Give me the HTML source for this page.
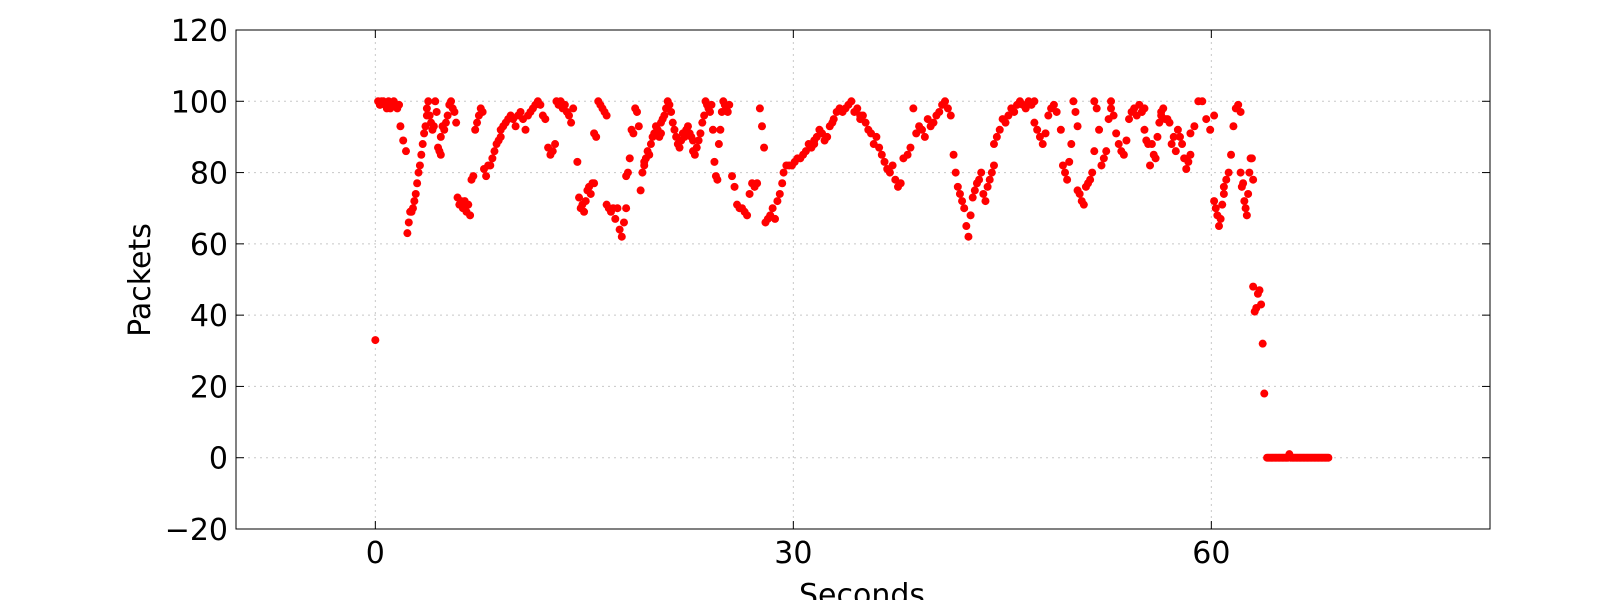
<!DOCTYPE html>
<html><head><meta charset="utf-8"><style>
html,body{margin:0;padding:0;background:#fff;}
svg text{font-family:"DejaVu Sans","Liberation Sans",sans-serif;fill:#000;}
</style></head><body>
<svg id="chart" width="1600" height="600" xmlns="http://www.w3.org/2000/svg">
<rect width="1600" height="600" fill="#fff"/>
<g id="grid"></g>
<g id="points"></g>
<rect x="236" y="30" width="1254" height="499" fill="none" stroke="#000" stroke-width="1"/>
<g id="ticks"></g>
<text transform="translate(150,280) rotate(-90)" text-anchor="middle" font-size="30">Packets</text>
<text x="862" y="605" text-anchor="middle" font-size="30">Seconds</text>
</svg>
<script>
const xTicks=[0,30,60];
const yTicks=[-20,0,20,40,60,80,100,120];
const yTickLabels=["\u221220","0","20","40","60","80","100","120"];
const segStart=[0,0.2,1.8,2.3,3.7,4.7,5.9,6.9,7.8,9,12.4,13,14.5,15.7,16.6,18,19.3,20.5,22.8,23.7,25.6,27.6,28,29.3,31.5,32.9,34.8,38.2,41.5,44.4,47.3,49.2,50.4,51.6,52.8,55.2,56.4,58.5,60.2,60.9,62.1,63,64];
const segEnd=[0,1.7,2.2,3.7,4.7,5.8,6.8,7.7,9,12.2,12.9,14.2,15.7,16.6,18,19.3,20.5,22.8,23.6,25.4,27.4,27.9,29.2,31.5,32.8,34.8,37.9,41.3,44.4,47.3,48.9,50.4,51.6,52.8,55.2,56.4,58.5,60.2,60.9,62.1,63,63.8,68.4];
const segValues=[
[33],
[100,99,100,100,99,98,100,98,99,100,99,98,99],
[93,89,86],
[63,66,69,69,70,72,74,77,80,82,85,88,91,93,96],
[98,100,96,94,92,93,100,97,87,86,85],
[90,93,92,94,96,99,100,98,97,94],
[73,71,72,70,72,69,71,68],
[78,79,92,94,96,98,97],
[81,79,82,82,84,86,88,89,90],
[92,93,94,95,96,95,93,96,97,95,92,96,97,98,99,100,99,96,95],
[87,85,86,88],
[100,99,100,98,99,97,96,94,98],
[83,73,70,71,69,72,75,76,74,77,77],
[91,90,100,99,98,97,96],
[71,70,69,70,67,70,64,62,66,70],
[79,80,84,92,91,98,97,93,75,80,82],
[83,84,86,85,88,90,91,93,92,90,91],
[94,95,96,98,100,99,97,94,92,90,88,87,89,91,90,92,93,91,90,89],
[86,85,87,89,91,94,96],
[100,99,98,97,99,92,83,79,78,88,92,97,100,99,98,97,99],
[79,76,71,70,70,69,68,74,77,76,77],
[98,93,87],
[66,67,68,70,67,72,74,77],
[80,82,82,82,83,84,84,85,86,88,87,88],
[89,90,92,91,89,90,93,94],
[95,97,98,97,98,99,100,97,98,96],
[95,96,94,92,91,88,90,87,85,83,81,80,82,78,76,77,84],
[85,87,98,91,93,92,90,95,93,94,96,97,99,100,98,96],
[85,80,76,74,72,70,65,62,68,73,75,77,78,80,74,72,76,78,80,82],
[88,90,92,95,94,96,98,97,99,100,99,98,100,99,100],
[94,92,90,88,91,96,98,99,97],
[92,82,80,78,83,88,100,97,93],
[75,74,72,71,76,77,78,80,86],
[100,98,92,82,84,86,95,100],
[98,96,91,88,86,85,89,95,97,98,96,99,97,98],
[92,89,88,82,88,85,84,90,94,96],
[97,98,95,95,94,88,90,86,92,90,88,84,81,83,85],
[91,93,100,100,95,92,96],
[72,70,68,65,67,71,74],
[76,78,80,85,93,98,99,97],
[80,76,77,72,70,68,74,80,84,84,78],
[48,41,42,46,47,43,32,18],
[0,0,0,0,0,0,0,0,0,0,0,0,0,0,0,0,1,0,0,0,0,0,0,0,0,0,0,0,0,0,0,0,0,0,0,0,0,0,0,0,0,0,0,0,0]
];
const X0=236,X1=1490,Y0=30,Y1=529,XMIN=-10,XMAX=80,YMIN=-20,YMAX=120;
function sx(t){return X0+(t-XMIN)/(XMAX-XMIN)*(X1-X0);}
function sy(v){return Y1-(v-YMIN)/(YMAX-YMIN)*(Y1-Y0);}
const NS="http://www.w3.org/2000/svg";
const grid=document.getElementById('grid'),ticks=document.getElementById('ticks'),pts=document.getElementById('points');
function mk(tag,attrs,parent){const e=document.createElementNS(NS,tag);for(const k in attrs)e.setAttribute(k,attrs[k]);parent.appendChild(e);return e;}
xTicks.forEach(t=>{
 const x=sx(t);
 const g=mk('line',{x1:x,x2:x,y1:Y0,y2:Y1,stroke:'#c8c8c8','stroke-dasharray':'2,4','stroke-width':1},grid);
 
 
 mk('line',{x1:x,x2:x,y1:Y1,y2:Y1-8,stroke:'#000'},ticks);
 mk('line',{x1:x,x2:x,y1:Y0,y2:Y0+8,stroke:'#000'},ticks);
 const tx=mk('text',{x:x,y:Y1+34,'text-anchor':'middle','font-size':30},ticks);
 tx.textContent=String(t);
 
 
});
yTicks.forEach((v,i)=>{
 const y=sy(v);
 const g=mk('line',{x1:X0,x2:X1,y1:y,y2:y,stroke:'#c8c8c8','stroke-dasharray':'2,4','stroke-width':1},grid);
 
 
 mk('line',{x1:X0,x2:X0+8,y1:y,y2:y,stroke:'#000'},ticks);
 mk('line',{x1:X1,x2:X1-8,y1:y,y2:y,stroke:'#000'},ticks);
 const tx=mk('text',{x:X0-8,y:y+11,'text-anchor':'end','font-size':30},ticks);
 tx.textContent=yTickLabels[i];
 
 
});
segValues.forEach((vals,s)=>{
 const n=vals.length;
 vals.forEach((v,j)=>{
  const t=n>1?segStart[s]+(segEnd[s]-segStart[s])*j/(n-1):segStart[s];
  const c=mk('circle',{cx:sx(t),cy:sy(v),r:4,fill:'#ff0000'},pts);
  
  
 });
});
</script>
</body></html>
